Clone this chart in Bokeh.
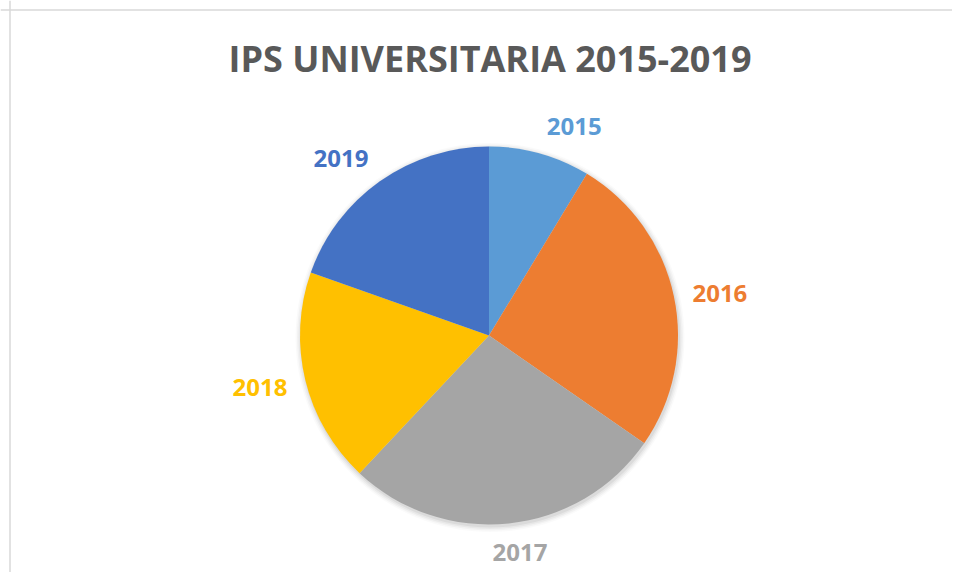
import math
from bokeh.plotting import figure
from bokeh.models import Range1d, Span, ColumnDataSource
from bokeh.core.properties import value
from bokeh.embed import file_html
from bokeh.resources import INLINE

# ---- data ----
years = ["2015", "2016", "2017", "2018", "2019"]
shares = [8.67, 26.0, 27.35, 18.4, 19.6]
colors = ["#5B9BD5", "#ED7D31", "#A5A5A5", "#FFC000", "#4472C4"]
title_text = "IPS UNIVERSITARIA 2015-2019"

# ---- layout (style) ----
W, H = 952, 572
cx, cy, R = 488.5, 237.0, 189.0
label_nudge_deg = [6.6, 1.7, -2.1, 0.8, -4.6]
label_w, label_h, label_gap = 53.0, 18.0, 18.0

p = figure(width=W, height=H, output_backend="svg", toolbar_location=None,
           x_range=Range1d(0, W), y_range=Range1d(0, H), min_border=0)
p.axis.visible = False
p.xgrid.visible = False
p.ygrid.visible = False
p.outline_line_color = None
p.background_fill_color = "white"
p.border_fill_color = "white"

# chart border (top + left)
p.add_layout(Span(location=H - 9.5, dimension="width", line_color="#D9D9D9", line_width=1.5))
p.add_layout(Span(location=9.5, dimension="height", line_color="#D9D9D9", line_width=1.5))

# soft shadow
for i, a in enumerate([0.05, 0.04, 0.03, 0.02]):
    p.circle(x=[cx + 1.0], y=[cy - 2.0], radius=R + 1 + i * 1.5,
             fill_color="black", fill_alpha=a, line_color=None)

total = sum(shares)
starts, ends, mids = [], [], []
acc = 0.0
for s in shares:
    a0 = acc / total * 2 * math.pi
    acc += s
    a1 = acc / total * 2 * math.pi
    starts.append(math.pi / 2 - a0)
    ends.append(math.pi / 2 - a1)
    mids.append((a0 + a1) / 2)

src = ColumnDataSource(dict(start=starts, end=ends, color=colors, year=years))
p.wedge(x=cx, y=cy, radius=R, start_angle="start", end_angle="end",
        direction="clock", fill_color="color", line_color=None, source=src)

lx, ly = [], []
for m, nd in zip(mids, label_nudge_deg):
    th = m + math.radians(nd)
    sx, cyv = math.sin(th), math.cos(th)
    d = R + abs(sx) * label_w / 2 + abs(cyv) * label_h / 2 + label_gap
    lx.append(cx + d * sx)
    ly.append(cy + d * cyv)

lsrc = ColumnDataSource(dict(x=lx, y=ly, t=years, c=colors))
p.text(x="x", y="y", text="t", text_color="c", source=lsrc,
       text_font=value("Open Sans"), text_font_style="bold",
       text_font_size="24px", text_align="center", text_baseline="middle")

p.text(x=[489.5], y=[H - 58], text=[title_text], text_color="#595959",
       text_font=value("Open Sans"), text_font_style="bold",
       text_font_size="36px", text_align="center", text_baseline="middle")

open("out.html", "w").write(file_html(p, INLINE))
